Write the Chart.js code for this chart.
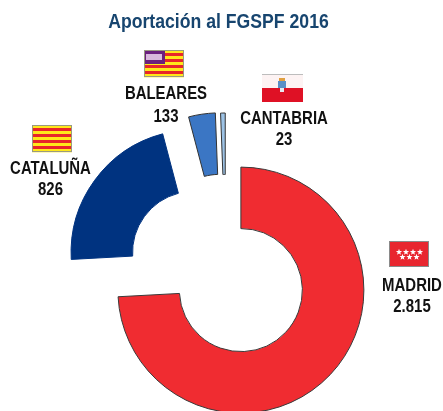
<!DOCTYPE html>
<html lang="es"><head><meta charset="utf-8"><title>Aportación al FGSPF 2016</title>
<script src="https://cdn.jsdelivr.net/npm/chart.js@4"></script>
<style>html,body{margin:0;padding:0;background:#fff;overflow:hidden}#w{position:relative;width:443px;height:411px}</style>
</head><body><div id="w"><canvas id="c" width="443" height="411"></canvas></div>
<script>
const titleText = 'Aportación al FGSPF 2016';
const categories = ['MADRID', 'CATALUÑA', 'BALEARES', 'CANTABRIA'];
const valueLabels = ['2.815', '826', '133', '23'];
const values = [2815, 826, 133, 23];
const colors = ['#F02C31', '#003380', '#3B76C4', '#9DC3E6'];
const borderColors = ['#3a3a3a', '#003380', '#333333', '#333333'];
const explode = [20.5, 39.5, 40.6, 40];
const labelPos = [[412, 291, 312], [50.5, 174, 195], [166, 99, 122], [284, 124, 145]];
const flagPos = [[389, 241], [32, 125], [144, 50], [262, 75]];

function stripes(ctx, x, y, w, h, n) {
  const s = h / n;
  for (let i = 0; i < n; i++) { ctx.fillStyle = i % 2 ? '#E8262A' : '#FFE81A'; ctx.fillRect(x, y + i * s, w, s + .3); }
}
function star(ctx, cx, cy, r) {
  ctx.beginPath();
  for (let i = 0; i < 10; i++) {
    const a = -Math.PI / 2 + i * Math.PI / 5, q = i % 2 ? r * .42 : r;
    ctx.lineTo(cx + q * Math.cos(a), cy + q * Math.sin(a));
  }
  ctx.closePath(); ctx.fill();
}
const flags = [
  (ctx, x, y) => { ctx.fillStyle = '#E8262F'; ctx.fillRect(x, y, 40, 26);
    ctx.fillStyle = '#fff';
    [10, 17, 24, 31].forEach(d => star(ctx, x + d, y + 11, 3.3));
    [13.5, 20.5, 27.5].forEach(d => star(ctx, x + d, y + 16, 3.3));
    ctx.strokeStyle = '#8a8a8a'; ctx.lineWidth = 1; ctx.strokeRect(x + .5, y + .5, 39, 25); },
  (ctx, x, y) => { stripes(ctx, x, y, 40, 27, 9);
    ctx.strokeStyle = '#9a9a80'; ctx.lineWidth = 1; ctx.strokeRect(x + .5, y + .5, 39, 26); },
  (ctx, x, y) => { stripes(ctx, x, y, 40, 27, 9);
    ctx.fillStyle = '#6B1F7E'; ctx.fillRect(x, y, 21, 14);
    ctx.fillStyle = '#D9B8DC'; ctx.fillRect(x + 2, y + 4, 16, 6);
    ctx.strokeStyle = '#9a9a80'; ctx.lineWidth = 1; ctx.strokeRect(x + .5, y + .5, 39, 26); },
  (ctx, x, y) => { ctx.fillStyle = '#FDF3F3'; ctx.fillRect(x, y, 41, 13);
    ctx.fillStyle = '#BDBDBD'; ctx.fillRect(x, y - 1, 41, 1);
    ctx.fillStyle = '#DF1125'; ctx.fillRect(x, y + 13, 41, 14);
    ctx.fillStyle = '#E0A040'; ctx.fillRect(x + 17, y + 3, 6, 3);
    ctx.fillStyle = '#5B8FC7'; ctx.fillRect(x + 16, y + 6, 8, 7);
    ctx.fillStyle = '#E8E8F0'; ctx.fillRect(x + 18, y + 13, 4, 4); }
];
const explodeSlices = {
  id: 'explodeSlices',
  afterDatasetsUpdate(chart) {
    chart.getDatasetMeta(0).data.forEach((arc, i) => {
      const mid = (arc.startAngle + arc.endAngle) / 2;
      arc.x += Math.cos(mid) * explode[i];
      arc.y += Math.sin(mid) * explode[i];
    });
  }
};
const paintExtras = {
  id: 'paintExtras',
  afterDraw(chart) {
    const ctx = chart.ctx;
    const put = (t, x, y, size, color, sx) => {
      ctx.save(); ctx.translate(x, y); ctx.scale(sx, 1);
      ctx.font = `bold ${size}px "Liberation Sans", Arial, sans-serif`;
      ctx.fillStyle = color; ctx.textAlign = 'center'; ctx.textBaseline = 'alphabetic';
      ctx.fillText(t, 0, 0); ctx.restore();
    };
    put(titleText, 218.5, 28, 21, '#17456F', .84);
    categories.forEach((c, i) => {
      const p = labelPos[i];
      put(c, p[0], p[1], 18, '#111111', .83);
      put(valueLabels[i], p[0], p[2], 18, '#111111', .83);
      flags[i](ctx, flagPos[i][0], flagPos[i][1]);
    });
  }
};
new Chart(document.getElementById('c'), {
  type: 'doughnut',
  data: { labels: categories, datasets: [{ data: values, backgroundColor: colors, borderColor: borderColors,
    borderWidth: 1, clip: false, borderAlign: 'center' }] },
  options: {
    responsive: false, animation: false, cutout: '50%', radius: 123,
    layout: { padding: { left: 9, right: 0, top: 141, bottom: 0 } },
    plugins: { legend: { display: false }, title: { display: false }, tooltip: { enabled: false } }
  },
  plugins: [explodeSlices, paintExtras]
});
</script></body></html>
